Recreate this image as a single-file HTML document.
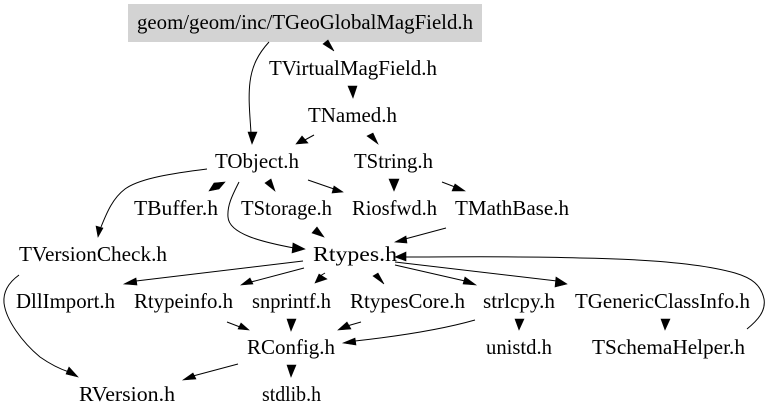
<!DOCTYPE html>
<html>
<head>
<meta charset="utf-8">
<style>
html,body{margin:0;padding:0;background:#fff;width:768px;height:419px;overflow:hidden}
svg{display:block}
text{font-family:"Liberation Serif",serif;font-size:20.8px;fill:#000}
path{fill:none;stroke:#000;stroke-width:1}
polygon{fill:#000;stroke:#000;stroke-width:.6}
</style>
</head>
<body>
<svg width="768" height="419" viewBox="0 0 768 419" xmlns="http://www.w3.org/2000/svg">
<rect x="128" y="4" width="354" height="38" fill="#d3d3d3"/>
<text x="137" y="29" textLength="336" lengthAdjust="spacingAndGlyphs">geom/geom/inc/TGeoGlobalMagField.h</text>
<text x="269" y="75" textLength="168" lengthAdjust="spacingAndGlyphs">TVirtualMagField.h</text>
<text x="308" y="122" textLength="89" lengthAdjust="spacingAndGlyphs">TNamed.h</text>
<text x="215" y="168" textLength="84" lengthAdjust="spacingAndGlyphs">TObject.h</text>
<text x="354" y="168" textLength="79" lengthAdjust="spacingAndGlyphs">TString.h</text>
<text x="134" y="215" textLength="84" lengthAdjust="spacingAndGlyphs">TBuffer.h</text>
<text x="241" y="215" textLength="91" lengthAdjust="spacingAndGlyphs">TStorage.h</text>
<text x="352" y="215" textLength="85" lengthAdjust="spacingAndGlyphs">Riosfwd.h</text>
<text x="455" y="215" textLength="114" lengthAdjust="spacingAndGlyphs">TMathBase.h</text>
<text x="19" y="261" textLength="148" lengthAdjust="spacingAndGlyphs">TVersionCheck.h</text>
<text x="313" y="261" textLength="84" lengthAdjust="spacingAndGlyphs">Rtypes.h</text>
<text x="16" y="308" textLength="99" lengthAdjust="spacingAndGlyphs">DllImport.h</text>
<text x="134" y="308" textLength="99" lengthAdjust="spacingAndGlyphs">Rtypeinfo.h</text>
<text x="252" y="308" textLength="79" lengthAdjust="spacingAndGlyphs">snprintf.h</text>
<text x="350" y="308" textLength="115" lengthAdjust="spacingAndGlyphs">RtypesCore.h</text>
<text x="483" y="308" textLength="72" lengthAdjust="spacingAndGlyphs">strlcpy.h</text>
<text x="575" y="308" textLength="175" lengthAdjust="spacingAndGlyphs">TGenericClassInfo.h</text>
<text x="247" y="354" textLength="88" lengthAdjust="spacingAndGlyphs">RConfig.h</text>
<text x="486" y="354" textLength="66" lengthAdjust="spacingAndGlyphs">unistd.h</text>
<text x="592" y="354" textLength="153" lengthAdjust="spacingAndGlyphs">TSchemaHelper.h</text>
<text x="79" y="401" textLength="96" lengthAdjust="spacingAndGlyphs">RVersion.h</text>
<text x="262" y="401" textLength="59" lengthAdjust="spacingAndGlyphs">stdlib.h</text>

<path d="M269,42C258,54 252,66 250,82C248,98 250,116 251,133"/>
<polygon points="248,132 257,132 252,144"/>
<polygon points="323,44 328,40 334,51"/>
<polygon points="348,86 357,86 353,98"/>
<path d="M314,135L303,141"/>
<polygon points="302,136 308,143 296,144"/>
<polygon points="367,136 373,133 378,144"/>
<polygon points="209,191 214,183 225,182 219,189"/>
<polygon points="265,183 271,179 275,191"/>
<path d="M308,180L334,189"/>
<polygon points="334,186 332,193 343,192"/>
<polygon points="389,179 399,179 394,191"/>
<path d="M442,182L455,187"/>
<polygon points="455,184 452,191 465,191"/>
<path d="M207,169C175,173 140,178 125,189C113,198 107,212 101,227"/>
<polygon points="96,226 103,228 98,237"/>
<path d="M239,182C233,194 227,205 228,217C229,234 262,242 294,248"/>
<polygon points="293,243 292,253 305,249"/>
<polygon points="317,227 312,233 324,237"/>
<path d="M446,228L405,239"/>
<polygon points="406,236 407,243 395,242"/>
<path d="M747,329C758,320 766,311 764,299C761,285 752,278 735,273C700,263 640,259 580,258C520,256 460,257 405,257"/>
<polygon points="406,252 406,261 395,257"/>
<path d="M395,262L557,281"/>
<polygon points="556,277 555,287 567,284"/>
<path d="M395,265L465,281"/>
<polygon points="465,277 463,284 476,285"/>
<polygon points="373,276 378,273 384,284"/>
<path d="M325,273L320,276"/>
<polygon points="319,274 327,279 315,283"/>
<path d="M304,268L251,282"/>
<polygon points="250,278 253,284 241,285"/>
<path d="M303,261L136,281"/>
<polygon points="136,278 137,285 124,284"/>
<path d="M227,322L240,327"/>
<polygon points="241,323 238,329 249,330"/>
<polygon points="287,319 296,319 291,331"/>
<path d="M361,322L347,326"/>
<polygon points="347,322 351,329 338,330"/>
<path d="M475,320C440,330 400,336 355,341"/>
<polygon points="355,338 356,345 343,343"/>
<polygon points="515,319 524,319 519,330"/>
<polygon points="661,319 670,319 665,330"/>
<path d="M238,364L193,376"/>
<polygon points="193,373 196,379 183,380"/>
<polygon points="287,365 296,365 291,377"/>
<path d="M19,275C8,283 3,292 4,303C6,320 22,342 40,357C50,364 60,369 69,372"/>
<polygon points="69,367 66,374 78,377"/>
</svg>
</body>
</html>
